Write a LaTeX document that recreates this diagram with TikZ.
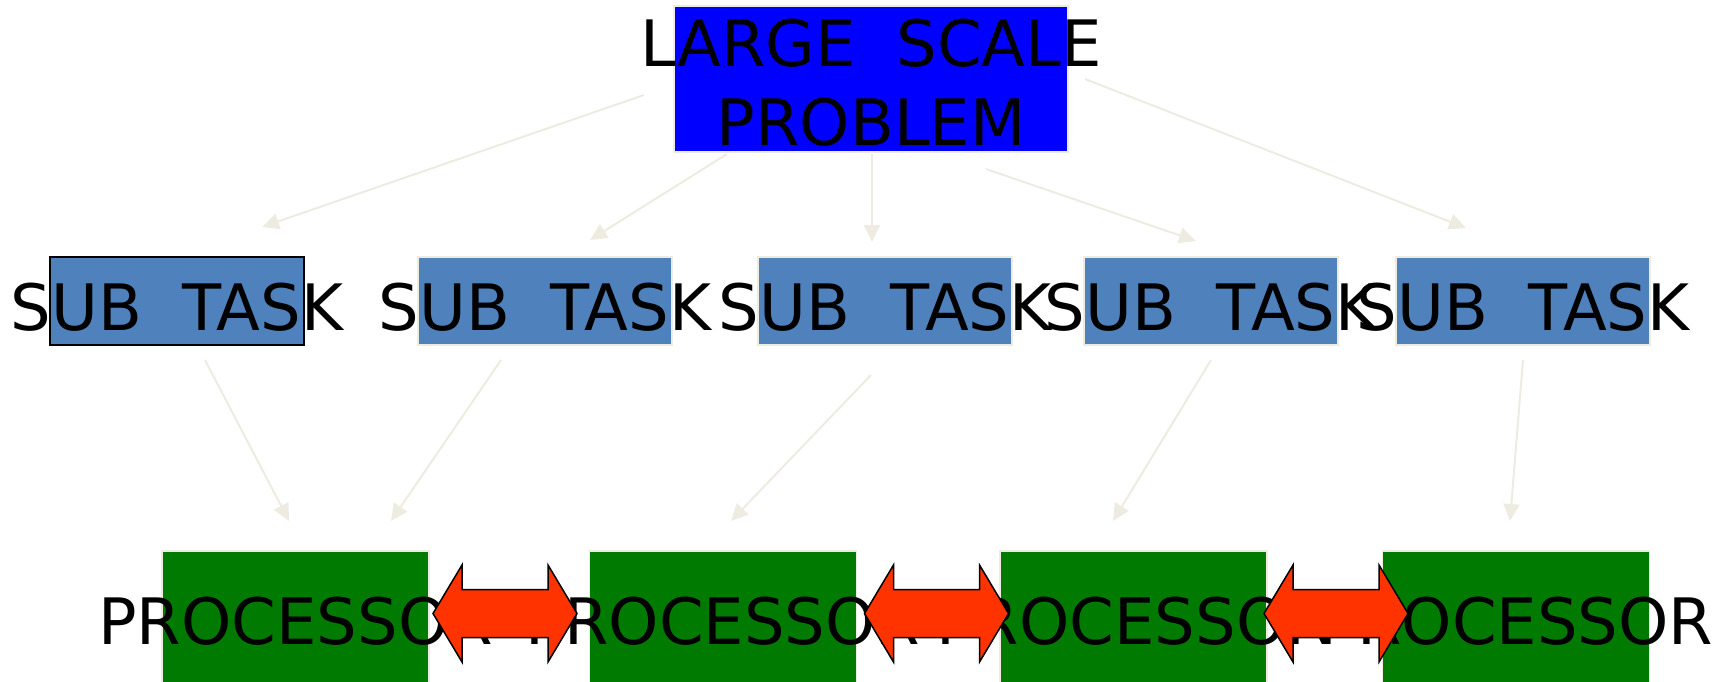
\documentclass[tikz,border=0pt]{standalone}
\usepackage{fontspec}
\setmainfont{DejaVu Sans}
\usetikzlibrary{arrows.meta}

\definecolor{probblue}{HTML}{0000FF}
\definecolor{taskblue}{HTML}{4F81BD}
\definecolor{procgreen}{HTML}{007A00}
\definecolor{linkred}{HTML}{FF3300}
\definecolor{paleline}{HTML}{EEECE1}

\tikzset{
  box/.style={rectangle, inner sep=0pt, line width=1.5pt, draw=paleline},
  topbox/.style={box, fill=probblue, minimum width=394pt, minimum height=146pt},
  taskbox/.style={box, fill=taskblue, minimum width=254pt, minimum height=88pt},
  procbox/.style={box, fill=procgreen, minimum width=267pt, minimum height=136pt},
  lbl/.style={inner sep=0pt, align=center, font=\fontsize{64}{79}\selectfont},
  link/.style={draw=paleline, line width=2pt,
    -{Triangle[length=17pt, width=16pt]}, fill=paleline},
  swap/.style={draw=black, line width=1.5pt, fill=linkred, line join=miter},
  dblarrow/.pic={
    \path[swap] (-72,0) -- (-43,48.5) -- (-43,24) -- (43,24) -- (43,48.5)
      -- (72,0) -- (43,-48.5) -- (43,-24) -- (-43,-24) -- (-43,-48.5) -- cycle;
  }
}

\begin{document}
\begin{tikzpicture}[x=1pt, y=-1pt]
\useasboundingbox (0,0) rectangle (1728,682);

% boxes
\node[topbox] (prob) at (871,79) {};
\node[taskbox, draw=black] (t1) at (177,301) {};
\node[taskbox] (t2) at (545,301) {};
\node[taskbox] (t3) at (885,301) {};
\node[taskbox] (t4) at (1211,301) {};
\node[taskbox] (t5) at (1523,301) {};
\node[procbox] (p1) at (295.5,619) {};
\node[procbox] (p2) at (723,619) {};
\node[procbox] (p3) at (1133.5,619) {};
\node[procbox] (p4) at (1516,619) {};

% labels
\node[lbl] (probtxt) at (871,83) {LARGE\ \ SCALE\\PROBLEM};
\foreach \n/\x in {1/177, 2/545, 3/885, 4/1211, 5/1523}
  \node[lbl, anchor=base] (t\n txt) at (\x,330) {SUB\ \ TASK};
\foreach \n/\x in {1/295.5, 2/723, 3/1133.5, 4/1516}
  \node[lbl, anchor=base] (p\n txt) at (\x,644) {PROCESSOR};

% connector ends
\coordinate (a1) at (644,95);   \coordinate (b1) at (262,227);
\coordinate (a2) at (727,154);  \coordinate (b2) at (590,240);
\coordinate (a3) at (872,154);  \coordinate (b3) at (872,242);
\coordinate (a4) at (986,169);  \coordinate (b4) at (1196,241);
\coordinate (a5) at (1085,79);  \coordinate (b5) at (1466,228);
\coordinate (c1) at (205,360);  \coordinate (d1) at (289,521);
\coordinate (c2) at (501,360);  \coordinate (d2) at (391,521);
\coordinate (c3) at (871,375);  \coordinate (d3) at (731,521);
\coordinate (c4) at (1211,360); \coordinate (d4) at (1113,521);
\coordinate (c5) at (1523,360); \coordinate (d5) at (1510,521);

\foreach \i in {1,...,5} {
  \draw[link] (a\i) -- (b\i);
  \draw[link] (c\i) -- (d\i);
}

% links between processors
\pic (x12) at (505,613.5) {dblarrow};
\pic (x23) at (936.5,613.5) {dblarrow};
\pic (x34) at (1336,613.5) {dblarrow};
\end{tikzpicture}
\end{document}
